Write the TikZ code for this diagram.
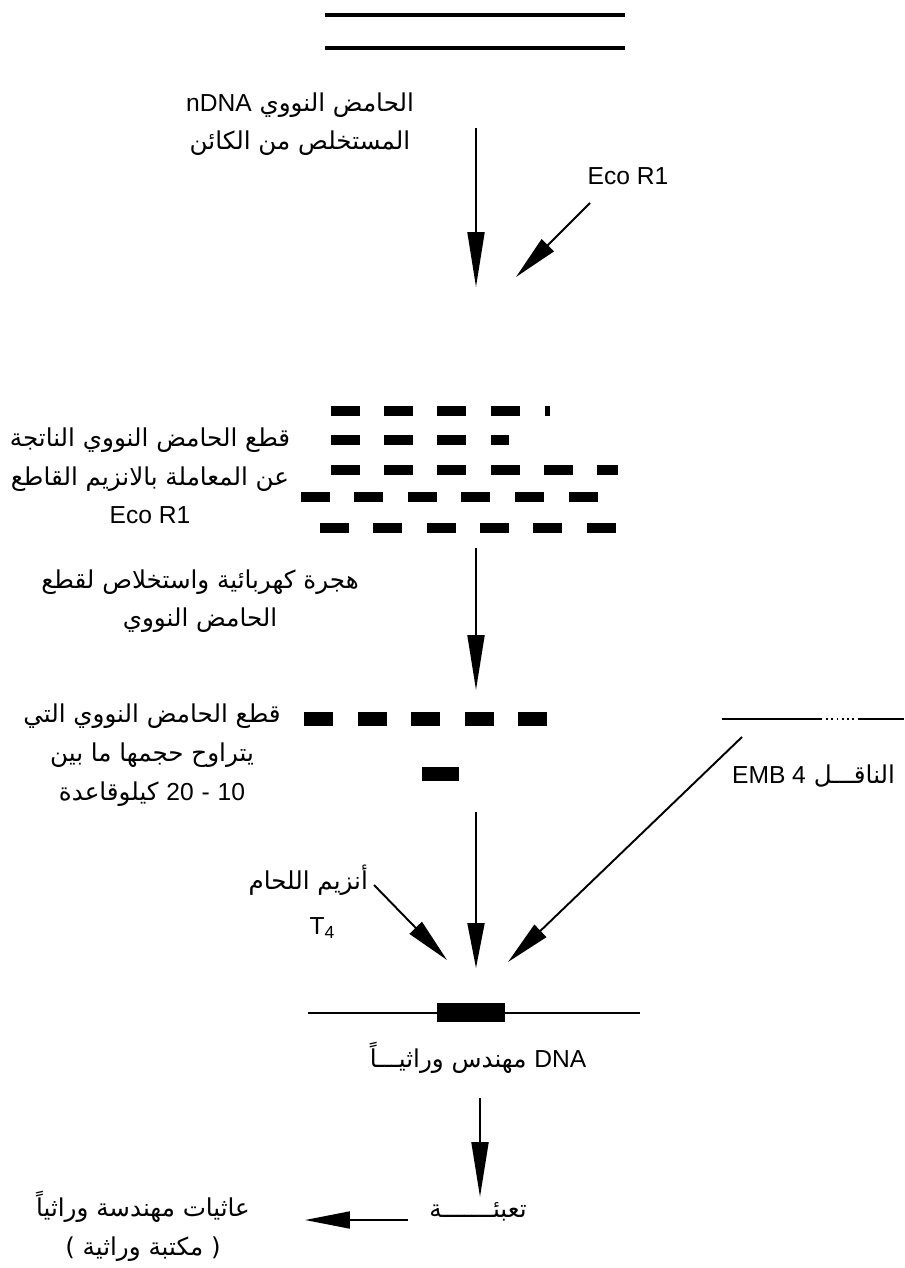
\documentclass[tikz,border=0pt]{standalone}
\usepackage{fontspec}
\setmainfont{Liberation Sans}
\newfontfamily\arabicfont[Script=Arabic]{DejaVu Sans}
\TeXXeTstate=1
\usepackage{tikz}
\usetikzlibrary{positioning,arrows.meta}

% Arabic text and embedded Latin text
\newcommand{\ar}[1]{{\arabicfont\beginR #1\endR}}
\newcommand{\lat}[1]{\beginL\hbox{\rmfamily #1}\endL}

\begin{document}
\begin{tikzpicture}[x=0.02cm,y=-0.02cm,
			lbl/.style={inner sep=1pt, align=center, font=\fontsize{14}{22}\selectfont},
			arrow/.style={-{Triangle[length=11mm,width=3.4mm]}, line width=1.1pt},
			sarrow/.style={-{Triangle[length=9mm,width=3.4mm]}, line width=1.1pt},
			strand/.style={line width=2.2pt},
			frag/.style={fill=black, minimum width=0.58cm, minimum height=0.2cm, inner sep=0pt}]

			\useasboundingbox (0,0) rectangle (904,1268);

			% starting DNA
			\draw[strand] (325,15) -- (625,15);
			\draw[strand] (325,48) -- (625,48);

			\node[lbl] (ndna) at (300,124) {\ar{الحامض النووي \lat{nDNA}}\\\ar{المستخلص من الكائن}};
			\node[lbl] (eco) at (628,176) {Eco R1};
			\coordinate (a1) at (476,128);
			\coordinate (a1e) at (476,287);
			\coordinate (e1) at (590,203);
			\coordinate (e1e) at (516,277);
			\draw[arrow] (a1) -- (a1e);
			\draw[sarrow] (e1) -- (e1e);

			% fragments
			\foreach \x in {345,398,451,505} \node[frag] at (\x,411) {};
			\node[frag, minimum width=0.1cm] at (547,411) {};
			\foreach \x in {345,398,451} \node[frag] at (\x,440) {};
			\node[frag, minimum width=0.36cm] at (500,440) {};
			\foreach \x in {345,398,451,505,558} \node[frag] at (\x,470) {};
			\node[frag, minimum width=0.42cm] at (607,470) {};
			\foreach \x in {315,368,422,475,529,583} \node[frag] at (\x,497) {};
			\foreach \x in {334,387,441,494,547,601} \node[frag] at (\x,528) {};

			\node[lbl] (cut) at (150,476) {\ar{قطع الحامض النووي الناتجة}\\\ar{عن المعاملة بالانزيم القاطع}\\Eco R1};

			\coordinate (a2) at (476,548);
			\coordinate (a2e) at (476,690);
			\draw[arrow] (a2) -- (a2e);
			\node[lbl] (gel) at (200,601) {\ar{هجرة كهربائية واستخلاص لقطع}\\\ar{الحامض النووي}};

			% selected fragments
			\foreach \x in {318,372,425,479,532} \node[frag, minimum height=0.28cm] at (\x,719) {};
			\node[frag, minimum height=0.28cm, minimum width=0.74cm] at (440,774) {};
			\node[lbl] (sel) at (152,755) {\ar{قطع الحامض النووي التي}\\\ar{يتراوح حجمها ما بين}\\\ar{\lat{10} \lat{-} \lat{20} كيلوقاعدة}};

			% vector
			\draw[line width=1pt] (722,719) -- (822,719);
			\draw[line width=1pt, dotted] (826,719) -- (856,719);
			\draw[line width=1pt] (858,719) -- (904,719);
			\node[lbl, anchor=west] (vec) at (730,776) {\ar{الناقـــل \lat{EMB 4}}};

			\coordinate (a3) at (476,812);
			\coordinate (a3e) at (476,968);
			\coordinate (v1) at (742,737);
			\coordinate (v1e) at (508,962);
			\coordinate (t1) at (374,885);
			\coordinate (t1e) at (447,960);
			\draw[sarrow] (a3) -- (a3e);
			\draw[sarrow] (v1) -- (v1e);
			\draw[sarrow] (t1) -- (t1e);
			\node[lbl, anchor=east] (lig) at (370,880) {\ar{أنزيم اللحام}};
			\node[lbl] (t4) at (322,928) {T\raisebox{-0.35ex}{\fontsize{10}{12}\selectfont 4}};

			% recombinant DNA
			\draw[line width=1pt] (308,1013) -- (640,1013);
			\node[frag, minimum width=1.36cm, minimum height=0.38cm] (rec) at (471,1012) {};
			\node[lbl] (rdna) at (478,1058) {\ar{\lat{DNA} مهندس وراثيـــاً}};

			\coordinate (a4) at (480,1098);
			\coordinate (a4e) at (480,1197);
			\draw[arrow] (a4) -- (a4e);
			\node[lbl] (pack) at (478,1212) {\ar{تعبئـــــــة}};
			\coordinate (p1) at (408,1220);
			\coordinate (p1e) at (305,1220);
			\draw[sarrow] (p1) -- (p1e);
			\node[lbl] (lib) at (143,1226) {\ar{عاثيات مهندسة وراثياً}\\\ar{( مكتبة وراثية )}};

		\end{tikzpicture}
\end{document}
